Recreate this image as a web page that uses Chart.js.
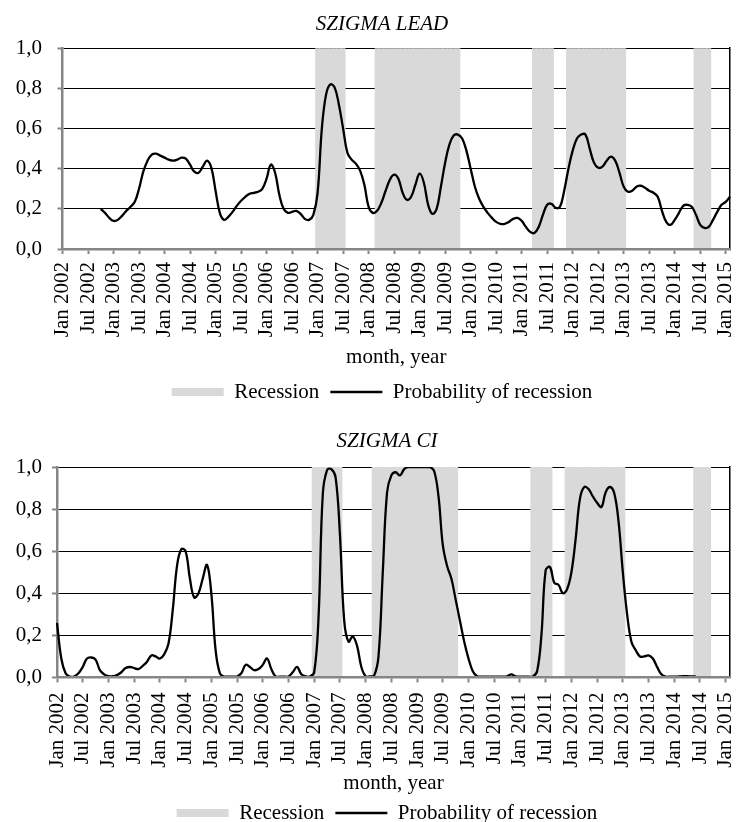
<!DOCTYPE html>
<html>
<head>
<meta charset="utf-8">
<script src="https://cdn.jsdelivr.net/npm/chart.js@4.4.1/dist/chart.umd.min.js"></script>
<style>
  html, body { margin: 0; padding: 0; background: #fff; width: 738px; height: 822px; overflow: hidden; }
  canvas { position: absolute; left: 0; }
  #leadChart { top: 0; }
  #ciChart { top: 410px; }
</style>
</head>
<body>
<canvas id="leadChart" width="738" height="413"></canvas>
<canvas id="ciChart" width="738" height="424"></canvas>
<script>
// Monthly axis: Jan 2002 .. Feb 2015
const monthNames = ['Jan', 'Feb', 'Mar', 'Apr', 'May', 'Jun', 'Jul', 'Aug', 'Sep', 'Oct', 'Nov', 'Dec'];
const firstYear = 2002;
const monthCount = 158;
const months = Array.from({ length: monthCount }, (_, i) => monthNames[i % 12] + ' ' + (firstYear + Math.floor(i / 12)));

// Recession periods (first and last month, inclusive)
const recessionPeriods = [
  ['Jan 2007', 'Jul 2007'],
  ['Mar 2008', 'Oct 2009'],
  ['Apr 2011', 'Aug 2011'],
  ['Dec 2011', 'Jan 2013'],
  ['Jun 2014', 'Sep 2014']
];

// SZIGMA LEAD: probability of recession (series starts Oct 2002)
const leadProbability = [
  null, null, null, null, null, null, null, null, null,
  0.20, 0.18, 0.155,
  0.14, 0.145, 0.165, 0.19, 0.21, 0.235,
  0.30, 0.385, 0.44, 0.47, 0.475, 0.465,
  0.455, 0.445, 0.44, 0.445, 0.455, 0.45,
  0.42, 0.385, 0.38, 0.41, 0.44, 0.405,
  0.29, 0.18, 0.145, 0.16, 0.185, 0.215,
  0.24, 0.26, 0.275, 0.28, 0.285, 0.30,
  0.35, 0.42, 0.38, 0.27, 0.20, 0.18,
  0.185, 0.19, 0.175, 0.15, 0.145, 0.17,
  0.28, 0.60, 0.77, 0.82, 0.805, 0.72,
  0.60, 0.48, 0.445, 0.425, 0.39, 0.32,
  0.21, 0.18, 0.19, 0.23, 0.29, 0.345,
  0.37, 0.35, 0.28, 0.245, 0.26, 0.32,
  0.375, 0.33, 0.22, 0.175, 0.20, 0.31,
  0.43, 0.52, 0.565, 0.57, 0.55, 0.49,
  0.40, 0.31, 0.25, 0.21, 0.18, 0.155,
  0.135, 0.125, 0.125, 0.135, 0.15, 0.155,
  0.14, 0.11, 0.085, 0.08, 0.11, 0.17,
  0.22, 0.225, 0.205, 0.21, 0.29, 0.40,
  0.49, 0.55, 0.57, 0.57, 0.50, 0.43,
  0.405, 0.41, 0.44, 0.46, 0.44, 0.38,
  0.31, 0.285, 0.29, 0.31, 0.315, 0.305,
  0.29, 0.28, 0.26, 0.19, 0.135, 0.12,
  0.145, 0.18, 0.215, 0.22, 0.21, 0.17,
  0.12, 0.105, 0.11, 0.145, 0.185, 0.22,
  0.235, 0.26
];

// SZIGMA CI: probability of recession (series ends Jun 2014)
const ciProbability = [
  0.26, 0.09, 0.02, 0.004, 0.005, 0.02,
  0.05, 0.09, 0.095, 0.085, 0.035, 0.015,
  0.006, 0.006, 0.012, 0.025, 0.045, 0.05,
  0.045, 0.04, 0.055, 0.075, 0.105, 0.10,
  0.09, 0.11, 0.16, 0.32, 0.53, 0.61,
  0.60, 0.47, 0.38, 0.40, 0.47, 0.535,
  0.40, 0.13, 0.02, 0.005, 0.004, 0.004,
  0.005, 0.02, 0.06, 0.05, 0.035, 0.04,
  0.06, 0.09, 0.04, 0.005, 0.004, 0.004,
  0.005, 0.025, 0.05, 0.015, 0.005, 0.005,
  0.025, 0.28, 0.87, 0.985, 0.99, 0.95,
  0.68, 0.27, 0.17, 0.195, 0.15, 0.05,
  0.006, 0.005, 0.01, 0.10, 0.50, 0.88,
  0.96, 0.975, 0.96, 0.99, 1.0, 1.0,
  1.0, 1.0, 1.0, 1.0, 0.98, 0.86,
  0.63, 0.53, 0.47, 0.37, 0.27, 0.17,
  0.09, 0.03, 0.006, 0.004, 0.004, 0.004,
  0.004, 0.004, 0.004, 0.006, 0.015, 0.005,
  0.004, 0.004, 0.004, 0.005, 0.03, 0.20,
  0.51, 0.525, 0.45, 0.44, 0.40, 0.42,
  0.50, 0.66, 0.85, 0.905, 0.895, 0.86,
  0.83, 0.81, 0.88, 0.905, 0.875, 0.74,
  0.50, 0.30, 0.17, 0.13, 0.10, 0.10,
  0.105, 0.09, 0.05, 0.015, 0.004, 0.004,
  0.004, 0.005, 0.006, 0.006, 0.005, 0.005,
  null, null, null, null, null, null, null, null
];

// Y-axis tick values
const yTicks = [0, 0.2, 0.4, 0.6, 0.8, 1.0];

// Recession bands as full-height bars, one per month
const recessionBars = months.map((_, i) =>
  recessionPeriods.some(([a, b]) => i >= months.indexOf(a) && i <= months.indexOf(b)) ? 1 : null
);

const serif = "'Liberation Serif', 'Times New Roman', serif";
const baseFont = { family: serif, size: 21, weight: 'normal' };
const axisGray = '#868686';
Chart.defaults.color = '#000';

function buildChart(canvas, p) {
  return new Chart(canvas, {
    type: 'bar',
    data: {
      labels: months,
      datasets: [
        {
          type: 'line',
          label: 'Probability of recession',
          data: p.values,
          borderColor: '#000',
          borderWidth: 2.3,
          pointRadius: 0,
          tension: 0.4,
          fill: false,
          spanGaps: false,
          order: 0
        },
        {
          type: 'bar',
          label: 'Recession',
          data: recessionBars,
          backgroundColor: '#d9d9d9',
          borderWidth: 0,
          barPercentage: 1,
          categoryPercentage: 1,
          order: 1
        }
      ]
    },
    options: {
      responsive: false,
      animation: false,
      devicePixelRatio: 1,
      layout: { padding: p.pad },
      plugins: {
        tooltip: { enabled: false },
        title: {
          display: true,
          text: p.title,
          color: '#000',
          font: { family: serif, size: 21, style: 'italic', weight: 'normal' },
          padding: p.titlePad
        },
        legend: {
          position: 'bottom',
          labels: {
            font: baseFont,
            color: '#000',
            usePointStyle: true,
            pointStyleWidth: 52,
            boxHeight: 8,
            padding: 11,
            generateLabels: () => [
              { text: 'Recession', fillStyle: '#d9d9d9', strokeStyle: '#d9d9d9', lineWidth: 0, pointStyle: 'rect', hidden: false, datasetIndex: 1, fontColor: '#000' },
              { text: 'Probability of recession', fillStyle: '#000', strokeStyle: '#000', lineWidth: 2.5, pointStyle: 'line', hidden: false, datasetIndex: 0, fontColor: '#000' }
            ]
          }
        }
      },
      scales: {
        x: {
          type: 'category',
          offset: false,
          grid: { offset: false, drawOnChartArea: false, tickLength: 5, tickColor: axisGray, tickWidth: 2 },
          border: { color: axisGray, width: 2.5, z: 1 },
          ticks: {
            autoSkip: false,
            minRotation: 90,
            maxRotation: 90,
            padding: p.xLabelPad,
            font: baseFont,
            color: '#000',
            callback(v) { return this.getLabelForValue(v); }
          },
          title: { display: true, text: 'month, year', font: baseFont, color: '#000', padding: { top: 0, bottom: p.xTitlePad } },
          afterBuildTicks(s) { s.ticks = s.ticks.filter(t => t.value % 6 === 0); },
          afterFit(s) { s.height = p.xHeight; s.paddingLeft = 0; s.paddingRight = 0; }
        },
        y: {
          min: 0,
          max: 1,
          afterBuildTicks(s) { s.ticks = yTicks.map(v => ({ value: v })); },
          ticks: {
            padding: p.yLabelPad,
            font: baseFont,
            color: '#000',
            callback: v => v.toFixed(1).replace('.', ',')
          },
          grid: {
            color: c => (c.tick && c.tick.value === 0 ? 'rgba(0,0,0,0)' : '#000'),
            lineWidth: 1,
            tickLength: 5,
            tickColor: axisGray,
            tickWidth: 2
          },
          border: { color: axisGray, width: 2.5 },
          afterFit(s) { s.width = p.axisLeft - p.pad.left; s.paddingTop = 0; s.paddingBottom = 0; }
        },
        y2: {
          position: 'right',
          min: 0,
          max: 1,
          ticks: { display: false },
          grid: { display: false },
          border: { color: '#000', width: 1.5 },
          afterFit(s) { s.width = 738 - p.pad.right - p.plotRight; s.paddingTop = 0; s.paddingBottom = 0; }
        }
      }
    }
  });
}

buildChart(document.getElementById('leadChart'), {
  title: 'SZIGMA LEAD',
  values: leadProbability,
  pad: { left: 8, right: -18, top: 0, bottom: 0.5 },
  plotRight: 730,
  titlePad: { top: 11.5, bottom: 11.5 },
  axisLeft: 62.5,
  yLabelPad: 15.5,
  xLabelPad: 8,
  xHeight: 121.5,
  xTitlePad: 0
});

buildChart(document.getElementById('ciChart'), {
  title: 'SZIGMA CI',
  values: ciProbability,
  pad: { left: 8, right: -28, top: 0, bottom: 0.5 },
  plotRight: 730,
  titlePad: { top: 18.4, bottom: 13.4 },
  axisLeft: 57,
  yLabelPad: 10,
  xLabelPad: 10,
  xHeight: 114,
  xTitlePad: -5
});
</script>
</body>
</html>
